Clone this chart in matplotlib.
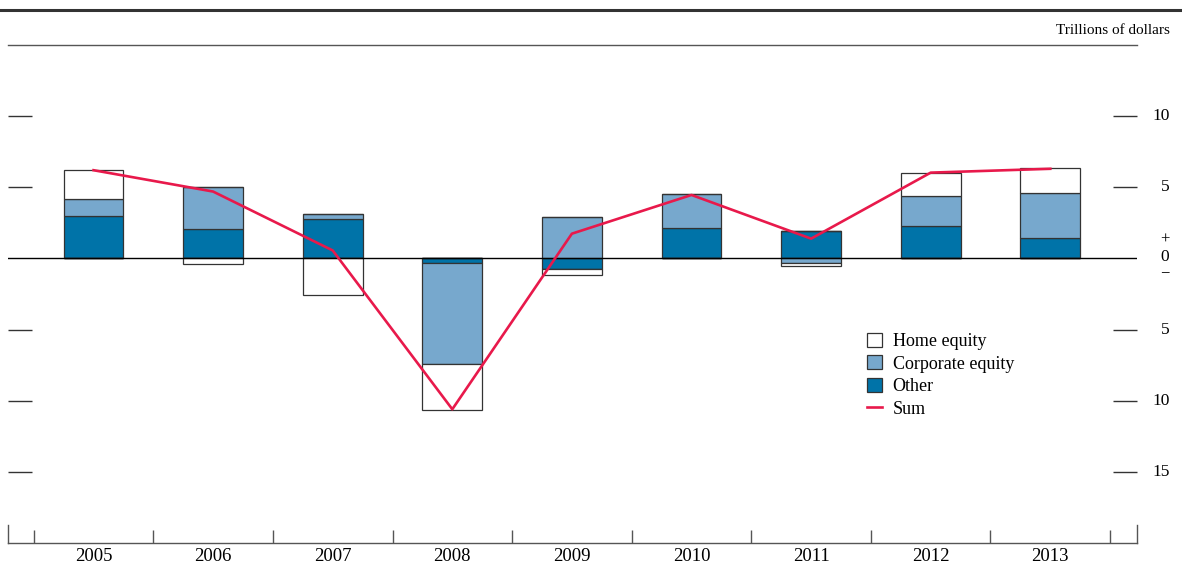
import matplotlib.pyplot as plt
import matplotlib.lines as mlines
import matplotlib.patches as mpatches
import matplotlib.transforms as mtransforms
import numpy as np

plt.rcParams['font.family'] = ['Liberation Serif', 'DejaVu Serif']

years = ['2005', '2006', '2007', '2008', '2009', '2010', '2011', '2012', '2013']
other = [3.0, 2.1, 2.75, -0.35, -0.77, 2.13, 1.92, 2.25, 1.43]
corporate = [1.2, 2.9, 0.4, -7.07, 2.9, 2.37, -0.33, 2.12, 3.17]
home = [2.0, -0.37, -2.6, -3.21, -0.38, 0.0, -0.19, 1.66, 1.76]
total = [6.2, 4.7, 0.56, -10.6, 1.74, 4.46, 1.39, 6.03, 6.3]

ytick_vals = [10, 5, -5, -10, -15]

c_other = '#0073a8'
c_corp = '#77a8cd'
c_home = '#ffffff'
c_sum = '#e8194b'

fig = plt.figure(figsize=(11.82, 5.69), dpi=100)
ax = fig.add_axes([8 / 1182, 26 / 569, 1129 / 1182, 498 / 569])

x = np.arange(len(years))
pos_base = np.zeros(len(years))
neg_base = np.zeros(len(years))
for vals, col in [(other, c_other), (corporate, c_corp), (home, c_home)]:
    vals = np.array(vals)
    pos = np.where(vals > 0, vals, 0)
    neg = np.where(vals < 0, vals, 0)
    ax.bar(x, pos, 0.5, bottom=pos_base, color=col, edgecolor='#333333', linewidth=0.9, zorder=2)
    ax.bar(x, neg, 0.5, bottom=neg_base, color=col, edgecolor='#333333', linewidth=0.9, zorder=2)
    pos_base += pos
    neg_base += neg

ax.plot(x, total, color=c_sum, linewidth=1.9, zorder=4)
ax.axhline(0, color='black', linewidth=1.0, zorder=3)

ax.set_xlim(-0.715, 8.725)
ax.set_ylim(-20, 15)

for s in ['left', 'right']:
    ax.spines[s].set_visible(False)
ax.spines['top'].set_color('#555555')
ax.spines['bottom'].set_color('#555555')
ax.spines['top'].set_linewidth(1.0)
ax.spines['bottom'].set_linewidth(1.0)

# year dividers and labels
ax.set_xticks(np.arange(-0.5, 9, 1.0))
ax.set_xticklabels([])
ax.tick_params(axis='x', which='major', direction='in', length=9.5, width=1.0, color='#555555')
ax.set_xticks(x, minor=True)
ax.set_xticklabels(years, minor=True, fontsize=13.5)
ax.tick_params(axis='x', which='minor', length=0, pad=3.5)
for xe in ax.get_xlim():
    ax.axvline(xe, ymin=0, ymax=0.037, color='#555555', linewidth=1.0, clip_on=False)

ax.set_yticks(ytick_vals)
ax.set_yticklabels([])
ax.tick_params(axis='y', which='major', left=True, right=True, direction='in',
               length=17, width=1.0, color='#333333')

trans = mtransforms.blended_transform_factory(ax.transAxes, ax.transData)
for v in ytick_vals:
    ax.text(1.0292, v, str(abs(v)), transform=trans, ha='right', va='center', fontsize=12.5)
ax.text(1.0248, 1.34, '+', transform=trans, ha='center', va='center', fontsize=12)
ax.text(1.0248, 0.07, '0', transform=trans, ha='center', va='center', fontsize=12.5)
ax.text(1.0248, -1.0, '\u2212', transform=trans, ha='center', va='center', fontsize=12)

fig.text(1170 / 1182, 1 - 31 / 569, 'Trillions of dollars', ha='right', va='center', fontsize=11)
fig.add_artist(mlines.Line2D([0, 1], [1 - 10 / 569, 1 - 10 / 569], color='#333333', linewidth=2.2))

handles = [
    mpatches.Patch(facecolor=c_home, edgecolor='#333333', linewidth=0.9, label='Home equity'),
    mpatches.Patch(facecolor=c_corp, edgecolor='#333333', linewidth=0.9, label='Corporate equity'),
    mpatches.Patch(facecolor=c_other, edgecolor='#333333', linewidth=0.9, label='Other'),
    mlines.Line2D([], [], color=c_sum, linewidth=1.9, label='Sum'),
]
ax.legend(handles=handles, loc='upper left', bbox_to_anchor=(0.7608, 0.422), frameon=False,
          fontsize=13, handlelength=0.82, handleheight=0.82, handletextpad=0.6,
          labelspacing=0.29, borderpad=0, borderaxespad=0)

fig.savefig('out.png', dpi=100)
